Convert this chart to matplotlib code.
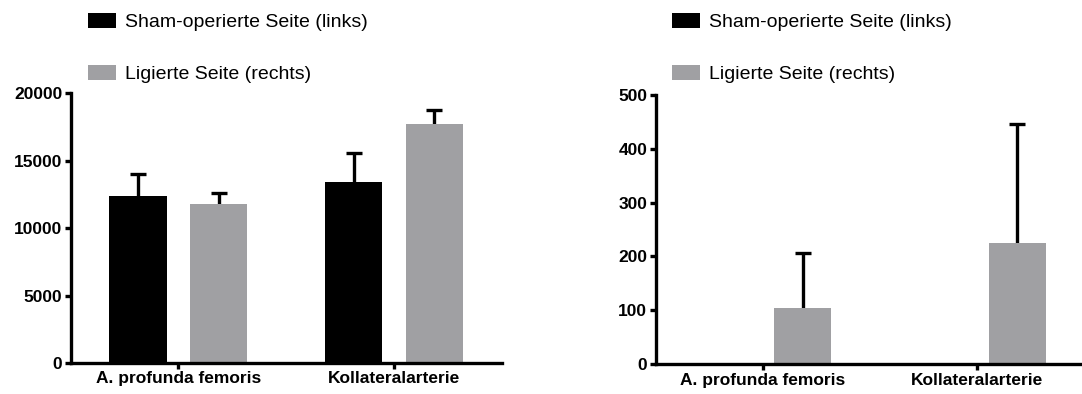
import matplotlib
matplotlib.use("Agg")
import matplotlib.pyplot as plt
import numpy as np
from matplotlib.patches import Patch

categories = ["A. profunda femoris", "Kollateralarterie"]
series_names = ["Sham-operierte Seite (links)", "Ligierte Seite (rechts)"]

# Left panel
left_sham = [12370, 13430]
left_sham_err = [1600, 2100]
left_lig = [11780, 17680]
left_lig_err = [790, 1060]
left_yticks = [0, 5000, 10000, 15000, 20000]

# Right panel
right_sham = [0, 0]
right_sham_err = [0, 0]
right_lig = [105, 225]
right_lig_err = [101, 221]
right_yticks = [0, 100, 200, 300, 400, 500]

BLACK = "#000000"
GREY = "#a0a0a3"

plt.rcParams['font.family'] = ['Liberation Sans', 'DejaVu Sans']

fig = plt.figure(figsize=(10.82, 3.94), dpi=100)

def upper_errorbar(ax, x, y, err):
    cont = ax.errorbar(x, y, yerr=[np.zeros(len(y)), err], fmt='none',
                       ecolor=BLACK, elinewidth=2.4, capsize=6, capthick=2.4, zorder=1)
    caps = cont[1]
    # hide the lower caps (at the bar top)
    for c in caps:
        yd = np.asarray(c.get_ydata(), dtype=float)
        if np.allclose(yd, np.asarray(y, dtype=float)):
            c.set_visible(False)

def panel(rect, sham, sham_err, lig, lig_err, yticks, ymax, show_sham, xmax):
    ax = fig.add_axes(rect)
    x = np.arange(len(categories))
    off = 0.187
    w = 0.266
    if show_sham:
        ax.bar(x - off, sham, w, color=BLACK, zorder=2)
        upper_errorbar(ax, x - off, sham, sham_err)
    ax.bar(x + off, lig, w, color=GREY, zorder=2)
    upper_errorbar(ax, x + off, lig, lig_err)
    ax.set_xlim(-0.5, xmax)
    ax.set_ylim(0, ymax)
    ax.set_yticks(yticks)
    ax.set_yticklabels([str(t) for t in yticks], fontweight='bold', fontsize=12.5)
    ax.set_xticks(x)
    ax.set_xticklabels(categories, fontweight='bold', fontsize=12.5)
    for s in ['top', 'right']:
        ax.spines[s].set_visible(False)
    for s in ['left', 'bottom']:
        ax.spines[s].set_linewidth(2.4)
    ax.tick_params(axis='both', width=2.4, length=4, pad=2)
    return ax

ax1 = panel([0.0652, 0.0787, 0.3985, 0.685], left_sham, left_sham_err, left_lig, left_lig_err,
            left_yticks, 20000, True, 1.5)
ax2 = panel([0.606, 0.0754, 0.394, 0.684], right_sham, right_sham_err, right_lig, right_lig_err,
            right_yticks, 500, False, 1.49)

handles = [Patch(facecolor=BLACK, edgecolor='none'), Patch(facecolor=GREY, edgecolor='none')]
for xleg in [0.081, 0.621]:
    fig.legend(handles, series_names, loc='upper left', bbox_to_anchor=(xleg, 0.968),
               frameon=False, fontsize=14, handlelength=1.45, handleheight=0.85,
               handletextpad=0.45, labelspacing=1.72, borderaxespad=0, borderpad=0)

fig.savefig("out.png", dpi=100)
